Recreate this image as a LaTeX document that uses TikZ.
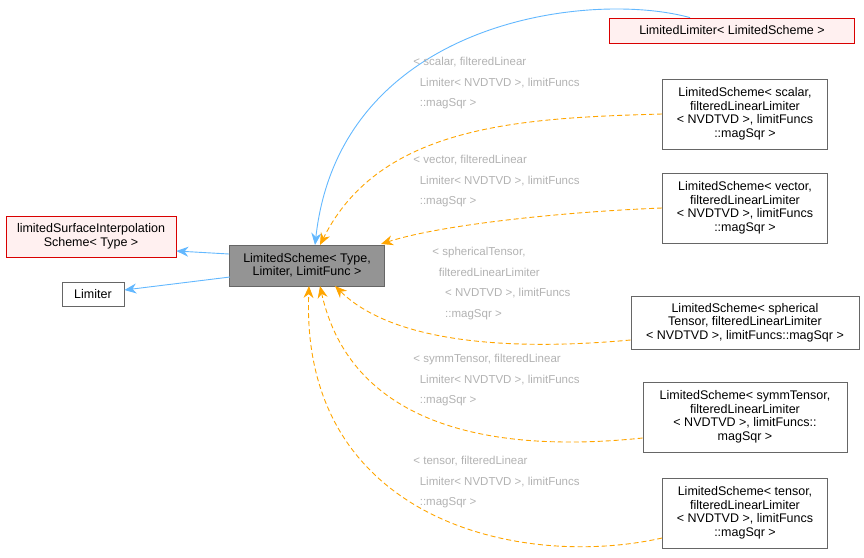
\documentclass[tikz,border=0pt]{standalone}
\usepackage{fontspec}
\setmainfont{Liberation Sans}
\usetikzlibrary{arrows.meta}
\definecolor{edgeblue}{HTML}{63B8FF}
\definecolor{edgeorange}{HTML}{FFA500}
\begin{document}
\begin{tikzpicture}[x=1pt,y=-1pt,line width=0.9pt,
  box/.style={draw=black!60,fill=white,font=\fontsize{12.5}{13.5}\selectfont,align=center,inner sep=1pt,line width=0.8pt},
  redbox/.style={box,draw=red!85!black,fill=red!6},
  graybox/.style={box,fill=black!42,draw=black!60},
  inh/.style={draw=edgeblue,-{Stealth[length=12pt,width=10pt]}},
  tmpl/.style={draw=edgeorange,dash pattern=on 5pt off 3pt,-{Stealth[length=12pt,width=10pt]}},
  lab/.style={font=\fontsize{11.5}{20.5}\selectfont,text=black!30,align=left,anchor=north west,inner sep=0pt}]
\useasboundingbox (0,0) rectangle (864,557);
\node[graybox,minimum width=155pt,minimum height=41pt] (main) at (307,265.5) {LimitedScheme< Type,\\Limiter, LimitFunc >};
\node[redbox,minimum width=170pt,minimum height=41pt] (lsi) at (91,236.5) {limitedSurfaceInterpolation\\Scheme< Type >};
\node[box,minimum width=62pt,minimum height=24pt] (lim) at (93,294) {Limiter};
\node[redbox,minimum width=245pt,minimum height=25pt] (ll) at (732,30.5) {LimitedLimiter< LimitedScheme >};
\node[box,minimum width=165pt,minimum height=70pt] (sc) at (745,114) {LimitedScheme< scalar,\\ filteredLinearLimiter\\< NVDTVD >, limitFuncs\\::magSqr >};
\node[box,minimum width=165pt,minimum height=70pt] (ve) at (745,208) {LimitedScheme< vector,\\ filteredLinearLimiter\\< NVDTVD >, limitFuncs\\::magSqr >};
\node[box,minimum width=228pt,minimum height=53pt] (sp) at (745,322.5) {LimitedScheme< spherical\\Tensor, filteredLinearLimiter\\< NVDTVD >, limitFuncs::magSqr >};
\node[box,minimum width=204pt,minimum height=70pt] (sy) at (745,417) {LimitedScheme< symmTensor,\\ filteredLinearLimiter\\< NVDTVD >, limitFuncs::\\magSqr >};
\node[box,minimum width=165pt,minimum height=70pt] (te) at (745,513) {LimitedScheme< tensor,\\ filteredLinearLimiter\\< NVDTVD >, limitFuncs\\::magSqr >};
\draw[inh] (main.west |- 0,254) -- (lsi.east |- 0,251);
\draw[inh] (230,277) -- (lim.east |- 0,290);
\draw[inh] (ll.north -| 690,0) .. controls (590,-10) and (340,20) .. (315,245);
\draw[tmpl] (sc.west |- 0,114) .. controls (520,118) and (380,125) .. (320,245);
\draw[tmpl] (ve.west |- 0,208) .. controls (560,212) and (440,225) .. (381,244);
\draw[tmpl] (sp.west |- 0,340) .. controls (500,352) and (390,340) .. (335,286);
\draw[tmpl] (sy.west |- 0,438) .. controls (480,455) and (350,420) .. (320,286);
\draw[tmpl] (te.west |- 0,538) .. controls (520,570) and (300,520) .. (309,286);
\node[lab] (l1) at (413,57) {< scalar, filteredLinear\\\ \ Limiter< NVDTVD >, limitFuncs\\\ \ ::magSqr >};
\node[lab] (l2) at (413,155) {< vector, filteredLinear\\\ \ Limiter< NVDTVD >, limitFuncs\\\ \ ::magSqr >};
\node[lab] (l3) at (432,247) {< sphericalTensor,\\\ \ filteredLinearLimiter\\\ \ \ \ < NVDTVD >, limitFuncs\\\ \ \ \ ::magSqr >};
\node[lab] (l4) at (413,354) {< symmTensor, filteredLinear\\\ \ Limiter< NVDTVD >, limitFuncs\\\ \ ::magSqr >};
\node[lab] (l5) at (413,456) {< tensor, filteredLinear\\\ \ Limiter< NVDTVD >, limitFuncs\\\ \ ::magSqr >};
\end{tikzpicture}
\end{document}
